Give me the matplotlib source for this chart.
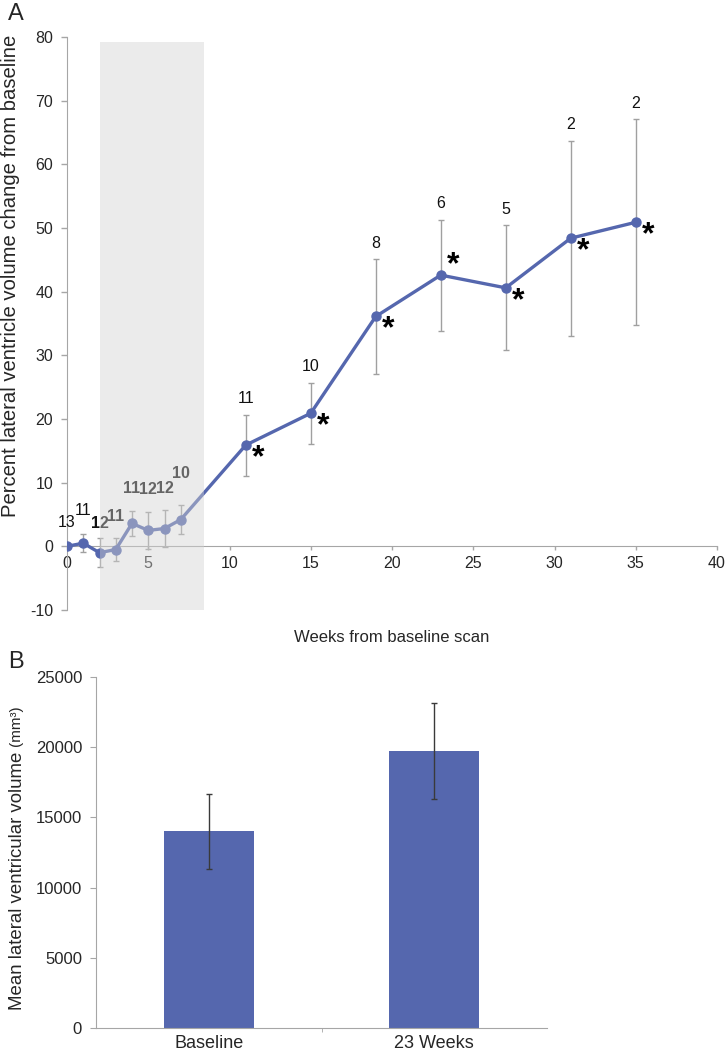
import matplotlib
matplotlib.use("Agg")
import matplotlib.pyplot as plt
from matplotlib.patches import Rectangle

plt.rcParams['font.family'] = ['Liberation Sans', 'DejaVu Sans']
plt.rcParams['axes.unicode_minus'] = False

# ---------------- data: panel A ----------------
weeks = [0, 1, 2, 3, 4, 5, 6, 7, 11, 15, 19, 23, 27, 31, 35]
pct_change = [0.0, 0.5, -1.0, -0.5, 3.6, 2.5, 2.8, 4.2, 15.9, 20.9, 36.1, 42.6, 40.6, 48.4, 50.9]
pct_err = [0.3, 1.4, 2.3, 1.8, 2.0, 2.9, 2.9, 2.3, 4.8, 4.8, 9.0, 8.7, 9.8, 15.3, 16.2]
n_subjects = ["13", "11", "12", "11", "11", "12", "12", "10", "11", "10", "8", "6", "5", "2", "2"]
bold_n_weeks = [2, 3, 4, 5, 6, 7]
signif_weeks = [11, 15, 19, 23, 27, 31, 35]
shade_weeks = (2.0, 8.4)
x_ticks_a = [0, 5, 10, 15, 20, 25, 30, 35, 40]
y_ticks_a = [-10, 0, 10, 20, 30, 40, 50, 60, 70, 80]

# ---------------- data: panel B ----------------
groups = ["Baseline", "23 Weeks"]
mean_volume = [14000, 19730]
volume_err = [2680, 3420]
y_ticks_b = [0, 5000, 10000, 15000, 20000, 25000]

blue = "#5567ae"
axis_gray = "#a6a6a6"
text_col = "#262626"

W, H = 728, 1052
fig = plt.figure(figsize=(W / 100, H / 100), dpi=100)

def fx(px):
    return px / W

def fy(py):
    return 1 - py / H

# ---------------- panel A ----------------
axA = fig.add_axes([fx(67), fy(610), fx(717) - fx(67), fy(37) - fy(610)])
axA.set_xlim(0, 40)
axA.set_ylim(-10, 80)
for s in ["top", "right"]:
    axA.spines[s].set_visible(False)
axA.spines["bottom"].set_position(("data", 0))
axA.spines["left"].set_color(axis_gray)
axA.spines["bottom"].set_color(axis_gray)
axA.set_xticks(x_ticks_a)
axA.set_yticks(y_ticks_a)
axA.tick_params(axis="y", direction="out", length=4, width=1, color=axis_gray,
                labelsize=11.5, labelcolor=text_col, pad=6)
axA.tick_params(axis="x", direction="out", length=3, width=1, color=axis_gray,
                labelsize=11.5, labelcolor=text_col, pad=4)
axA.patch.set_alpha(0)

axA.errorbar(weeks, pct_change, yerr=pct_err, fmt="none", ecolor="#a0a0a0",
             elinewidth=1.0, capsize=2.5, capthick=1.0, zorder=2)
axA.plot(weeks, pct_change, color=blue, lw=2.4, marker="o", markersize=6.5,
         markerfacecolor=blue, markeredgecolor=blue, zorder=3)

for w, v, e, n in zip(weeks, pct_change, pct_err, n_subjects):
    early = w <= 7
    off = 22 if early else 16
    if w == 2:
        off = 15
    if w == 7:
        off = 31
    if w == 1:
        off = 24
    axA.annotate(n, (w, v + e), xytext=(0, off * 0.72), textcoords="offset points",
                 ha="center", va="center", fontsize=11.5,
                 fontweight="bold" if w in bold_n_weeks else "normal",
                 color="#111111", zorder=3)

for w, v in zip(weeks, pct_change):
    if w in signif_weeks:
        dy = 10 if w == 23 else -13
        axA.annotate("*", (w, v), xytext=(12 * 0.72, dy * 0.72), textcoords="offset points",
                     ha="center", va="center", fontsize=23, fontweight="bold",
                     color="black", zorder=5)

# translucent shaded window (drawn over the early part of the series)
axA.add_patch(Rectangle((shade_weeks[0], -10), shade_weeks[1] - shade_weeks[0], 89.2,
                        facecolor="#d2d2d2", alpha=0.44, edgecolor="none", zorder=4))

axA.set_ylabel("Percent lateral ventricle volume change from baseline",
               fontsize=14.6, color=text_col)
axA.yaxis.set_label_coords(-0.072, 1 - (276 - 37) / (610 - 37))
fig.text(fx(392), fy(637), "Weeks from baseline scan", ha="center", va="center",
         fontsize=12, color=text_col)
fig.text(fx(8), fy(14), "A", ha="left", va="center", fontsize=17, color=text_col)

# ---------------- panel B ----------------
axB = fig.add_axes([fx(96), fy(1028), fx(547) - fx(96), fy(677) - fy(1028)])
axB.set_xlim(-0.5, 1.5)
axB.set_ylim(0, 25000)
for s in ["top", "right"]:
    axB.spines[s].set_visible(False)
axB.spines["left"].set_color(axis_gray)
axB.spines["bottom"].set_color(axis_gray)
xpos = list(range(len(groups)))
axB.bar(xpos, mean_volume, width=0.4, color=blue, edgecolor="none", zorder=2)
axB.errorbar(xpos, mean_volume, yerr=volume_err, fmt="none", ecolor="#3a3a3a",
             elinewidth=1.0, capsize=2.5, capthick=1.0, zorder=3)
axB.set_yticks(y_ticks_b)
axB.set_xticks(xpos)
axB.set_xticklabels(groups)
axB.set_xticks([0.5], minor=True)
axB.tick_params(axis="x", which="major", length=0, labelsize=13, labelcolor=text_col, pad=5)
axB.tick_params(axis="x", which="minor", length=3, color=axis_gray, direction="out")
axB.tick_params(axis="y", direction="out", length=4, color=axis_gray,
                labelsize=12, labelcolor=text_col, pad=6)

fig.text(fx(8), fy(662), "B", ha="left", va="center", fontsize=17, color=text_col)

t1 = fig.text(fx(18), fy(1010), "Mean lateral ventricular volume ", rotation=90,
              ha="center", va="bottom", fontsize=13.4, color=text_col)
fig.canvas.draw()
bb = t1.get_window_extent()
top_px = bb.y1
fig.text(fx(16), top_px / H, "(mm³)", rotation=90, ha="center", va="bottom",
         fontsize=11, color=text_col)

fig.savefig("out.png", dpi=100)
